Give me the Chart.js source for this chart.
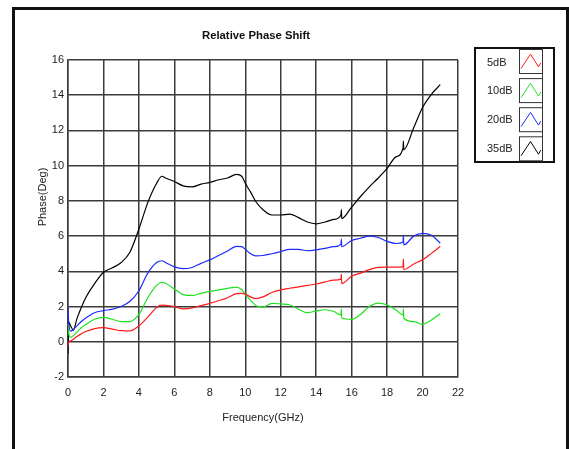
<!DOCTYPE html>
<html>
<head>
<meta charset="utf-8">
<script src="https://cdn.jsdelivr.net/npm/chart.js@4.4.1/dist/chart.umd.min.js"></script>
<style>
  html, body { margin: 0; padding: 0; background: #fff; width: 569px; height: 449px; overflow: hidden; }
  #frame { position: absolute; left: 12px; top: 7px; width: 551px; height: 460px;
           border-left: 3px solid #111; border-top: 3px solid #111; border-right: 3px solid #111; }
  #c { position: absolute; left: 0; top: 0; }
</style>
</head>
<body>
<div id="frame"></div>
<canvas id="c" width="569" height="449"></canvas>
<script>
// ---- data ----
const chartTitle = "Relative Phase Shift";
const xAxisTitle = "Frequency(GHz)";
const yAxisTitle = "Phase(Deg)";
const seriesNames = ["5dB", "10dB", "20dB", "35dB"];
const seriesColors = ["#ff1a1a", "#1fe01f", "#1a2cff", "#000000"];

const freq = [0, 0.05, 0.15, 0.3, 0.5, 0.75,
  1, 1.5, 2, 2.5, 3, 3.5, 4, 4.5, 5,
  5.3, 5.5, 6, 6.5, 7, 7.5, 8, 8.5, 9, 9.5,
  9.8, 10, 10.3, 10.6, 11, 11.5, 12, 12.5, 13, 13.5,
  14, 14.5, 15, 15.4, 15.42, 15.44, 16, 16.5, 17, 17.5,
  18, 18.5, 18.9, 18.92, 18.94, 19.5, 20, 20.5, 21];

const phase5dB = [-0.25, 0.0, 0.05, 0.15, 0.3, 0.45,
  0.58, 0.75, 0.8, 0.72, 0.63, 0.62, 0.9, 1.4, 1.95,
  2.08, 2.07, 2.0, 1.87, 1.92, 2.05, 2.18, 2.33, 2.5, 2.73,
  2.75, 2.7, 2.55, 2.45, 2.55, 2.8, 2.95, 3.04, 3.12, 3.2,
  3.28, 3.4, 3.5, 3.56, 3.85, 3.3, 3.72, 3.9, 4.1, 4.23,
  4.24, 4.24, 4.27, 4.7, 4.1, 4.42, 4.65, 5.02, 5.42];

const phase10dB = [1.0, 0.4, 0.25, 0.35, 0.55, 0.8,
  0.98, 1.28, 1.38, 1.28, 1.15, 1.15, 1.55, 2.5, 3.2,
  3.38, 3.32, 3.0, 2.68, 2.63, 2.75, 2.86, 2.95, 3.03, 3.1,
  2.95, 2.7, 2.35, 2.05, 1.98, 2.18, 2.15, 2.1, 1.85, 1.65,
  1.75, 1.82, 1.72, 1.52, 1.85, 1.35, 1.27, 1.55, 2.0, 2.2,
  2.1, 1.8, 1.52, 1.85, 1.35, 1.14, 0.99, 1.24, 1.6];

const phase20dB = [2.0, 0.95, 0.6, 0.7, 0.9, 1.15,
  1.35, 1.65, 1.77, 1.85, 2.0, 2.3, 2.9, 3.9, 4.5,
  4.6, 4.5, 4.25, 4.15, 4.22, 4.45, 4.65, 4.9, 5.15, 5.42,
  5.4, 5.25, 5.0, 4.88, 4.9, 5.0, 5.12, 5.25, 5.25, 5.17,
  5.22, 5.3, 5.4, 5.55, 5.85, 5.4, 5.75, 5.88, 6.0, 5.92,
  5.7, 5.58, 5.65, 6.05, 5.5, 6.0, 6.15, 6.05, 5.6];

const phase35dB = [-0.7, 1.1, 0.9, 0.65, 1.3, 1.95,
  2.5, 3.3, 3.95, 4.2, 4.5, 5.1, 6.4, 7.9, 9.0,
  9.4, 9.3, 9.1, 8.85, 8.8, 8.95, 9.05, 9.2, 9.3, 9.5,
  9.4, 9.0, 8.5, 7.95, 7.5, 7.2, 7.2, 7.25, 7.05, 6.8,
  6.7, 6.8, 6.95, 7.2, 7.5, 7.0, 7.65, 8.25, 8.8, 9.3,
  9.85, 10.5, 11.0, 11.4, 10.9, 12.15, 13.3, 14.05, 14.6];

const xTicks = [0, 2, 4, 6, 8, 10, 12, 14, 16, 18, 20, 22];
const yTicks = [-2, 0, 2, 4, 6, 8, 10, 12, 14, 16];

const seriesValues = [phase5dB, phase10dB, phase20dB, phase35dB];

// ---- build chart ----
const FONT = "'Liberation Sans', Arial, sans-serif";
const gridColor = "#3c3c3c";

const datasets = seriesNames.map((name, i) => ({
  label: name,
  data: freq.map((f, k) => ({ x: f, y: seriesValues[i][k] })),
  borderColor: seriesColors[i],
  backgroundColor: seriesColors[i],
  borderWidth: 1.2,
  pointRadius: 0,
  cubicInterpolationMode: 'monotone',
  fill: false
}));

const decorPlugin = {
  id: 'decor',
  afterDraw(chart) {
    const ctx = chart.ctx;
    ctx.save();
    // title
    ctx.fillStyle = '#111';
    ctx.font = "bold 11.3px " + FONT;
    ctx.textAlign = 'center';
    ctx.textBaseline = 'middle';
    ctx.fillText(chartTitle, 256, 36);
    // y axis title
    ctx.save();
    ctx.translate(43, 197);
    ctx.rotate(-Math.PI / 2);
    ctx.font = "11px " + FONT;
    ctx.fillStyle = '#222';
    ctx.fillText(yAxisTitle, 0, 0);
    ctx.restore();
    // legend
    const L = 475, T = 48, R = 554, B = 162;
    ctx.lineWidth = 2;
    ctx.strokeStyle = '#111';
    ctx.strokeRect(L, T, R - L, B - T);
    ctx.lineWidth = 1;
    ctx.strokeStyle = '#333';
    ctx.beginPath();
    ctx.moveTo(542.5, T);
    ctx.lineTo(542.5, B);
    ctx.stroke();
    chart.data.datasets.forEach((ds, i) => {
      const bx = 519.5, by = 49.5 + i * 29.1;
      ctx.strokeStyle = '#333';
      ctx.lineWidth = 1;
      ctx.strokeRect(bx, by, 23, 24);
      ctx.strokeStyle = ds.borderColor;
      ctx.lineWidth = 1;
      ctx.beginPath();
      ctx.moveTo(bx + 1.5, by + 19);
      ctx.lineTo(bx + 11, by + 4.7);
      ctx.lineTo(bx + 19, by + 17.4);
      ctx.lineTo(bx + 21.2, by + 13.4);
      ctx.stroke();
      ctx.fillStyle = '#222';
      ctx.font = "11px " + FONT;
      ctx.textAlign = 'left';
      ctx.textBaseline = 'middle';
      ctx.fillText(ds.label, 487, 62.7 + i * 28.6);
    });
    ctx.restore();
  }
};

new Chart(document.getElementById('c'), {
  type: 'line',
  data: { datasets },
  options: {
    responsive: false,
    animation: false,
    devicePixelRatio: 1,
    layout: { padding: { left: 0, right: 111, top: 60, bottom: 16 } },
    plugins: { legend: { display: false }, title: { display: false }, tooltip: { enabled: false } },
    scales: {
      x: {
        type: 'linear', min: 0, max: 22,
        afterBuildTicks: (s) => { s.ticks = xTicks.map(v => ({ value: v })); },
        afterFit: (s) => { s.height = 56; },
        ticks: { color: '#222', font: { family: FONT, size: 11 }, padding: 9, maxRotation: 0 },
        grid: { color: gridColor, lineWidth: 1.5, drawTicks: false },
        border: { color: gridColor, width: 1.5 },
        title: { display: true, text: xAxisTitle, color: '#222', font: { family: FONT, size: 11 }, padding: { top: 0, bottom: 8 } }
      },
      y: {
        type: 'linear', min: -2, max: 16,
        afterBuildTicks: (s) => { s.ticks = yTicks.map(v => ({ value: v })); },
        afterFit: (s) => { s.width = 68; },
        ticks: { color: '#222', font: { family: FONT, size: 11 }, padding: 4 },
        grid: { color: gridColor, lineWidth: 1.5, drawTicks: false },
        border: { color: gridColor, width: 1.5 }
      }
    }
  },
  plugins: [decorPlugin]
});
</script>
</body>
</html>
